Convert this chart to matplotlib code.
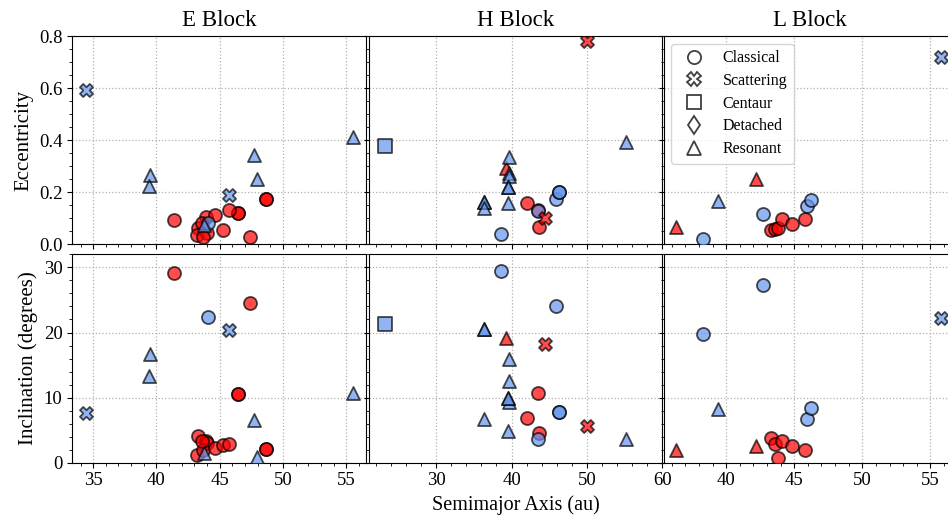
import matplotlib

matplotlib.use("Agg")
import matplotlib.pyplot as plt
from matplotlib.lines import Line2D

plt.rcParams["font.family"] = ["Liberation Serif", "DejaVu Serif"]
plt.rcParams["axes.unicode_minus"] = False

CLASSES = ["Classical", "Scattering", "Centaur", "Detached", "Resonant"]
MARKERS = {"Classical": "o", "Scattering": "X", "Centaur": "s", "Detached": "d", "Resonant": "^"}
COLOURS = {"r": "red", "b": "cornflowerblue"}

# E block (duplicated rows are objects that sit on top of each other)
e_a = [34.45, 45.7, 39.47, 39.45, 47.68, 47.95, 55.5, 43.75, 44.05, 41.42, 47.42,
       46.41, 46.41, 48.68, 48.68, 43.3, 43.2, 43.9, 44.0, 43.7, 44.6, 45.3, 45.7, 43.6]
e_ecc = [0.592, 0.188, 0.265, 0.224, 0.342, 0.250, 0.413, 0.073, 0.080, 0.092, 0.028,
         0.118, 0.118, 0.173, 0.173, 0.060, 0.035, 0.105, 0.041, 0.028, 0.111, 0.054, 0.131, 0.080]
e_inc = [7.7, 20.4, 16.7, 13.3, 6.6, 0.9, 10.7, 1.5, 22.4, 29.2, 24.6,
         10.6, 10.6, 2.1, 2.1, 4.1, 1.2, 3.3, 3.0, 2.0, 2.3, 2.7, 2.9, 3.4]
e_cls = ["Scattering", "Scattering", "Resonant", "Resonant", "Resonant", "Resonant", "Resonant",
         "Resonant", "Classical", "Classical", "Classical", "Classical", "Classical", "Classical",
         "Classical", "Classical", "Classical", "Classical", "Classical", "Classical", "Classical",
         "Classical", "Classical", "Classical"]
e_grp = ["b", "b", "b", "b", "b", "b", "b", "b", "b", "r", "r",
         "r", "r", "r", "r", "r", "r", "r", "r", "r", "r", "r", "r", "r"]

# H block
h_a = [23.2, 49.95, 44.5, 55.2, 39.3, 39.6, 39.6, 39.6, 39.5, 39.5, 39.5, 36.35, 36.35, 36.35,
       38.6, 45.85, 46.35, 46.35, 43.45, 42.06, 43.7, 43.5]
h_ecc = [0.378, 0.782, 0.099, 0.394, 0.291, 0.333, 0.272, 0.260, 0.220, 0.220, 0.159, 0.162,
         0.162, 0.137, 0.037, 0.173, 0.199, 0.199, 0.128, 0.156, 0.067, 0.131]
h_inc = [21.3, 5.6, 18.2, 3.7, 19.1, 15.9, 12.5, 9.3, 10.0, 10.0, 4.8, 20.5, 20.5, 6.7,
         29.5, 24.0, 7.8, 7.8, 3.6, 6.9, 4.6, 10.7]
h_cls = ["Centaur", "Scattering", "Scattering", "Resonant", "Resonant", "Resonant", "Resonant",
         "Resonant", "Resonant", "Resonant", "Resonant", "Resonant", "Resonant", "Resonant",
         "Classical", "Classical", "Classical", "Classical", "Classical", "Classical",
         "Classical", "Classical"]
h_grp = ["b", "r", "r", "b", "r", "b", "b", "b", "b", "b", "b", "b", "b", "b",
         "b", "b", "b", "b", "b", "r", "r", "r"]

# L block
l_a = [55.8, 36.35, 39.4, 42.22, 38.3, 42.7, 45.97, 46.24, 43.3, 43.6, 43.8, 44.1, 44.82, 45.8]
l_ecc = [0.72, 0.067, 0.165, 0.249, 0.019, 0.114, 0.147, 0.169, 0.054, 0.056, 0.060, 0.095,
         0.077, 0.098]
l_inc = [22.2, 1.95, 8.2, 2.5, 19.8, 27.3, 6.7, 8.45, 3.74, 2.87, 0.77, 3.4, 2.6, 1.95]
l_cls = ["Scattering", "Resonant", "Resonant", "Resonant", "Classical", "Classical", "Classical",
         "Classical", "Classical", "Classical", "Classical", "Classical", "Classical", "Classical"]
l_grp = ["b", "r", "b", "r", "b", "b", "b", "b", "r", "r", "r", "r", "r", "r"]

BLOCKS = [
    ("E Block", e_a, e_ecc, e_inc, e_cls, e_grp, (33.35, 56.55)),
    ("H Block", h_a, h_ecc, h_inc, h_cls, h_grp, (21.06, 60.0)),
    ("L Block", l_a, l_ecc, l_inc, l_cls, l_grp, (35.4, 56.95)),
]

W, H = 948, 523
LEFTS = [72.3, 368.8, 663.5]
PANEL_W = 293.5
ROWS = [(36.0, 244.0), (254.4, 462.7)]


def px_axes(fig, left, top, bottom):
    return fig.add_axes([left / W, 1 - bottom / H, PANEL_W / W, (bottom - top) / H])


def draw_points(ax, a, yvals, cls, grp):
    for c in CLASSES:
        for g in ("r", "b"):
            idx = [k for k in range(len(a)) if cls[k] == c and grp[k] == g]
            if not idx:
                continue
            ax.scatter([a[k] for k in idx], [yvals[k] for k in idx], marker=MARKERS[c],
                       s=88, c=COLOURS[g], edgecolors="black", linewidths=1.3, alpha=0.7,
                       zorder=3)


def style_axis(ax):
    ax.minorticks_on()
    ax.grid(True, which="major", linestyle=":", color="#b0b0b0", linewidth=0.9)
    ax.set_axisbelow(True)
    ax.tick_params(labelsize=13.5)


fig = plt.figure(figsize=(W / 100, H / 100), dpi=100)

for col, (title, a, ecc, inc, cls, grp, xlim) in enumerate(BLOCKS):
    ax_e = px_axes(fig, LEFTS[col], *ROWS[0])
    ax_i = px_axes(fig, LEFTS[col], *ROWS[1])
    draw_points(ax_e, a, ecc, cls, grp)
    draw_points(ax_i, a, inc, cls, grp)
    for ax in (ax_e, ax_i):
        style_axis(ax)
        ax.set_xlim(*xlim)
    ax_e.set_ylim(0, 0.8)
    ax_i.set_ylim(0, 32)
    ax_e.set_yticks([0.0, 0.2, 0.4, 0.6, 0.8])
    ax_i.set_yticks([0, 10, 20, 30])
    ax_e.tick_params(labelbottom=False)
    ax_e.set_title(title, fontsize=16.5, pad=7)
    if col == 0:
        ax_e.set_ylabel("Eccentricity", fontsize=15)
        ax_i.set_ylabel("Inclination (degrees)", fontsize=15)
    else:
        ax_e.tick_params(labelleft=False)
        ax_i.tick_params(labelleft=False)
    if col == 1:
        ax_i.set_xticks([30, 40, 50, 60])
        ax_i.set_xlabel("Semimajor Axis (au)", fontsize=14.5)
    if col == 2:
        handles = [Line2D([], [], linestyle="none", marker=MARKERS[c], markersize=9.5,
                          markerfacecolor="none", markeredgecolor="#404040",
                          markeredgewidth=1.3, label=c) for c in CLASSES]
        ax_e.legend(handles=handles, loc="upper left", fontsize=11.5, labelspacing=0.42,
                    framealpha=0.8, edgecolor="#cccccc")

fig.savefig("out.png", dpi=100)
